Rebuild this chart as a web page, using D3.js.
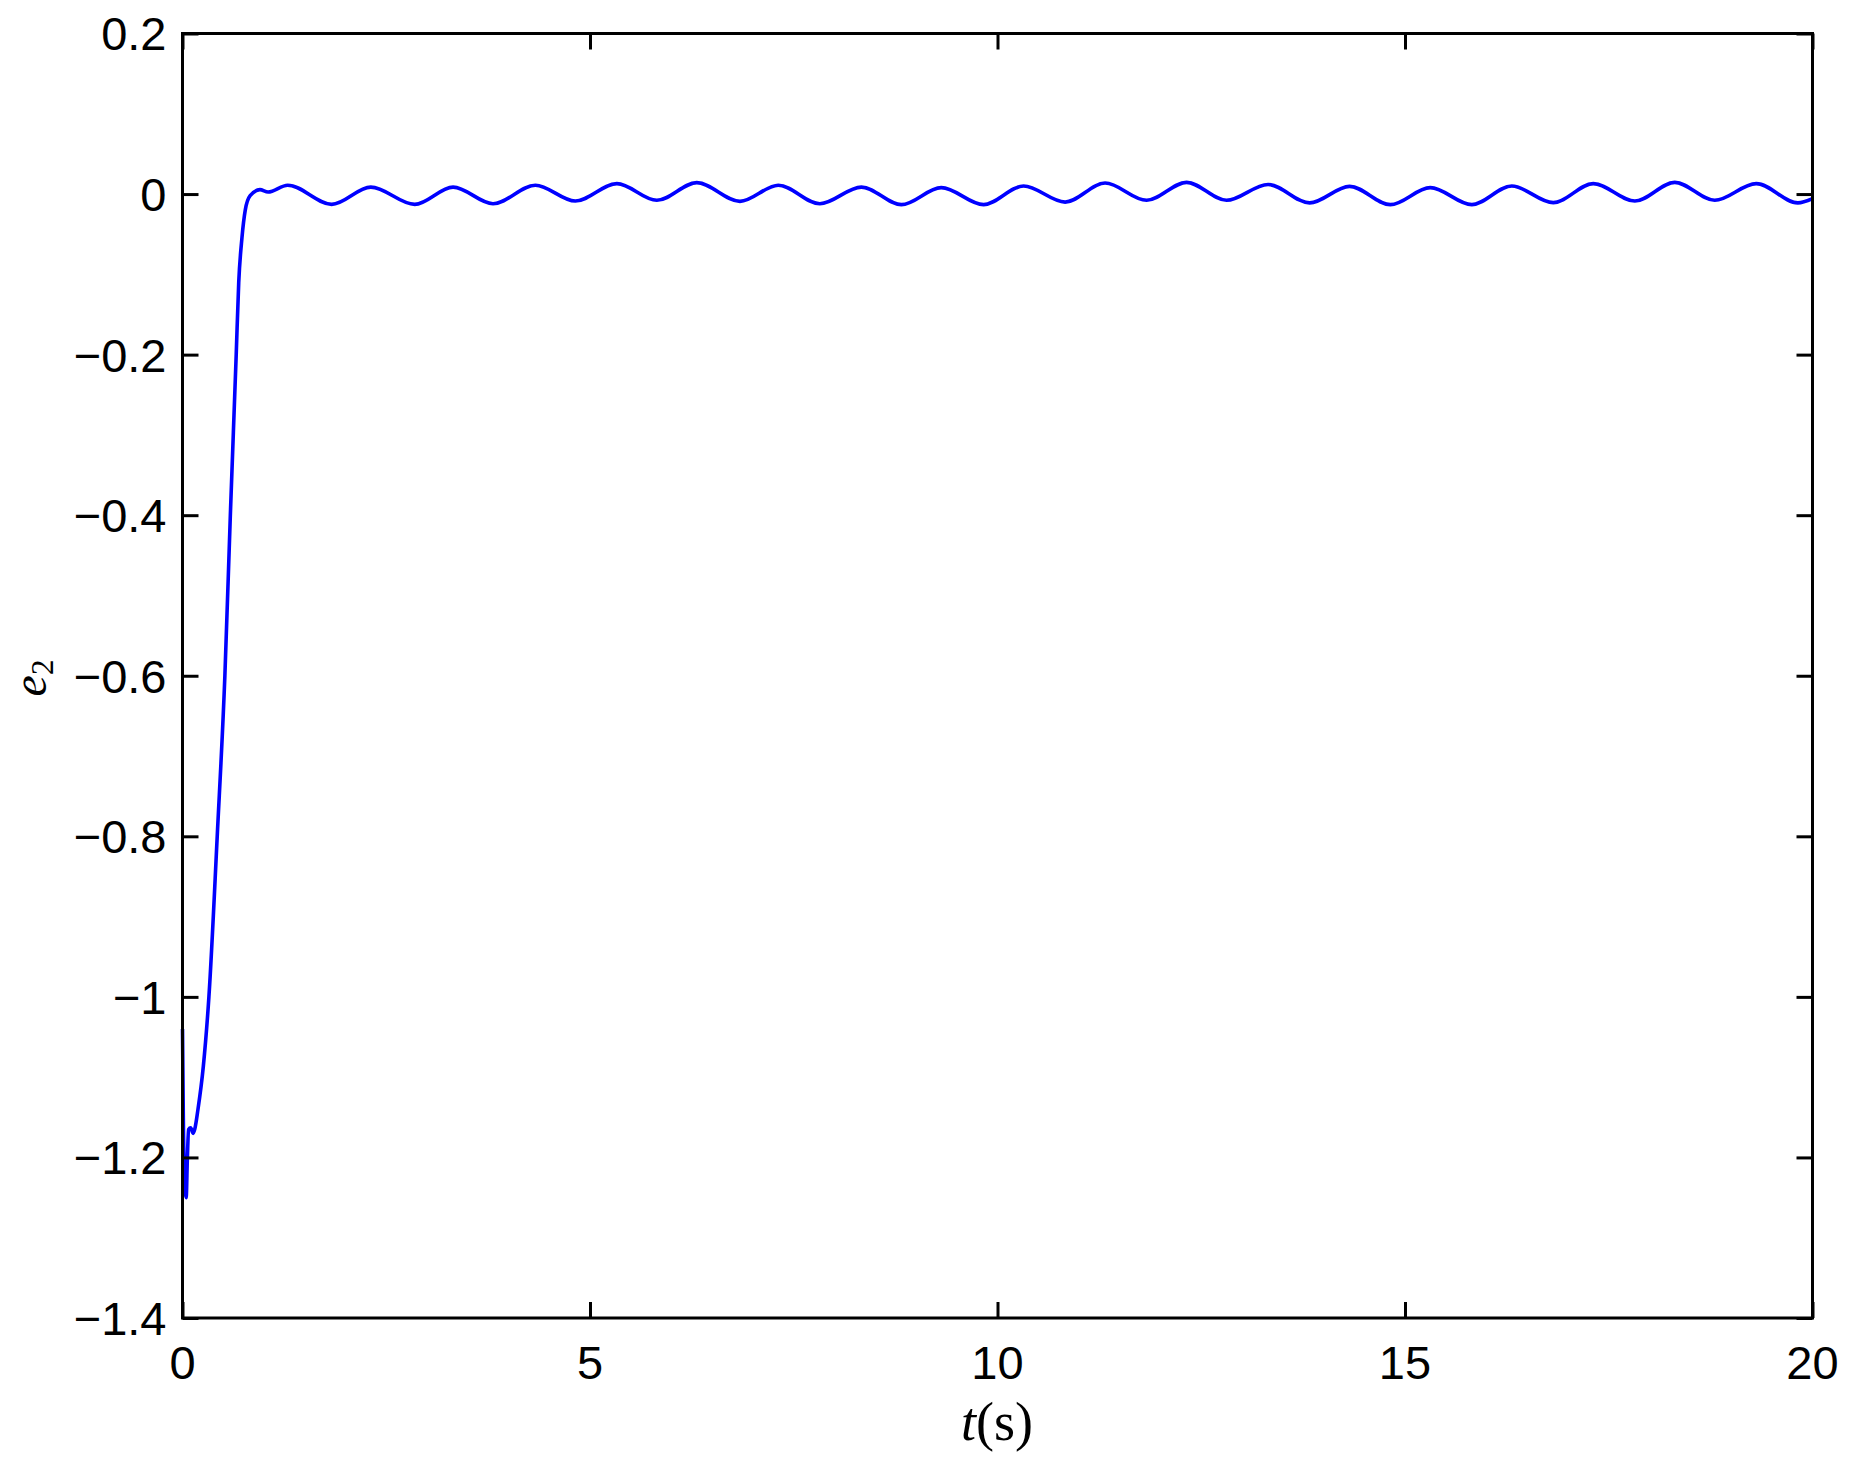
<!DOCTYPE html>
<html>
<head>
<meta charset="utf-8">
<script src="https://cdn.jsdelivr.net/npm/d3@7"></script>
<style>
  html, body { margin: 0; padding: 0; background: #fff; }
  svg { display: block; }
</style>
</head>
<body>
<svg id="chart" width="1861" height="1464"></svg>
<script>
// ---- data ----
const tValues = [
  0, 0.01, 0.03, 0.045, 0.06, 0.075, 0.1, 0.13, 0.15, 0.19, 0.255, 0.324,
  0.426, 0.52, 0.587, 0.659, 0.69, 0.73, 0.77, 0.83, 0.95, 1.05,
  1.29, 1.83, 2.31, 2.85, 3.32, 3.81, 4.33, 4.82, 5.33, 5.82, 6.31, 6.84,
  7.31, 7.82, 8.33, 8.82, 9.31, 9.83, 10.32, 10.83, 11.32, 11.83, 12.32, 12.81,
  13.32, 13.83, 14.32, 14.82, 15.31, 15.82, 16.31, 16.82, 17.31, 17.82, 18.31, 18.80,
  19.31, 19.82, 20
];
const e2Values = [
  -1.04, -1.15, -1.24, -1.25, -1.20, -1.165, -1.163, -1.17, -1.165, -1.14, -1.087, -1.0,
  -0.80, -0.60, -0.40, -0.20, -0.11, -0.054, -0.020, -0.002, 0.0055, 0.0025,
  0.011, -0.0128, 0.0087, -0.0128, 0.0087, -0.012, 0.011, -0.0087, 0.013, -0.0078, 0.0142, -0.0091,
  0.011, -0.012, 0.0087, -0.0132, 0.008, -0.0132, 0.010, -0.010, 0.0137, -0.0078, 0.0146, -0.0078,
  0.012, -0.011, 0.0096, -0.0132, 0.008, -0.0132, 0.010, -0.0107, 0.013, -0.0087, 0.0146, -0.0078,
  0.013, -0.011, -0.0057
];
const xTicks = [0, 5, 10, 15, 20];
const yTicks = [0.2, 0, -0.2, -0.4, -0.6, -0.8, -1, -1.2, -1.4];
const xDomain = [0, 20];
const yDomain = [-1.4, 0.2];

(function () {
  // ---- layout ----
  const pL = 182.5, pR = 1812.5, pT = 33.5, pB = 1318;
  const svg = d3.select("#chart");
  const x = d3.scaleLinear().domain(xDomain).range([pL, pR]);
  const y = d3.scaleLinear().domain(yDomain).range([pB, pT]);

  const fmt = v => (v < 0 ? "\u2212" : "") + String(Math.abs(Math.round(v * 10) / 10));
  const tickFont = "'Liberation Sans', Arial, Helvetica, sans-serif";
  const tickLen = 16;

  // curve
  const data = tValues.map((t, i) => [t, e2Values[i]]);
  svg.append("path")
    .datum(data)
    .attr("fill", "none")
    .attr("stroke", "#0000ff")
    .attr("stroke-width", 3.6)
    .attr("stroke-linejoin", "round")
    .attr("d", d3.line().x(d => x(d[0])).y(d => y(d[1])).curve(d3.curveMonotoneX));

  // axes with inward ticks on all four sides
  const gB = svg.append("g").attr("transform", `translate(0,${pB})`)
    .call(d3.axisTop(x).tickValues(xTicks).tickSize(tickLen).tickFormat(""));
  const gT = svg.append("g").attr("transform", `translate(0,${pT})`)
    .call(d3.axisBottom(x).tickValues(xTicks).tickSize(tickLen).tickFormat(""));
  const gL = svg.append("g").attr("transform", `translate(${pL},0)`)
    .call(d3.axisRight(y).tickValues(yTicks).tickSize(tickLen).tickFormat(""));
  const gR = svg.append("g").attr("transform", `translate(${pR},0)`)
    .call(d3.axisLeft(y).tickValues(yTicks).tickSize(tickLen).tickFormat(""));
  [gB, gT, gL, gR].forEach(g => {
    g.select(".domain").remove();
    g.selectAll(".tick line").attr("stroke", "#000").attr("stroke-width", 3);
  });

  // frame
  svg.append("rect")
    .attr("x", pL).attr("y", pT)
    .attr("width", pR - pL).attr("height", pB - pT)
    .attr("fill", "none").attr("stroke", "#000").attr("stroke-width", 3);

  // tick labels
  svg.append("g").selectAll("text").data(xTicks).join("text")
    .attr("x", d => x(d)).attr("y", 1379)
    .attr("text-anchor", "middle")
    .attr("font-family", tickFont).attr("font-size", 47)
    .text(d => fmt(d));
  svg.append("g").selectAll("text").data(yTicks).join("text")
    .attr("x", pL - 16).attr("y", d => y(d))
    .attr("dy", "0.36em")
    .attr("text-anchor", "end")
    .attr("font-family", tickFont).attr("font-size", 47)
    .text(d => fmt(d));

  // axis labels
  const mathFont = "'Liberation Serif', 'DejaVu Serif', serif";
  const xl = svg.append("text")
    .attr("x", 997).attr("y", 1440)
    .attr("text-anchor", "middle")
    .attr("font-family", mathFont).attr("font-size", 54);
  xl.append("tspan").attr("font-style", "italic").text("t");
  xl.append("tspan").text("(s)");

  const yl = svg.append("text")
    .attr("transform", "translate(46,678) rotate(-90)")
    .attr("text-anchor", "middle")
    .attr("font-family", mathFont).attr("font-size", 48);
  yl.append("tspan").attr("font-style", "italic").text("e");
  yl.append("tspan").attr("font-size", 31).attr("dy", 7).text("2");
})();
</script>
</body>
</html>
